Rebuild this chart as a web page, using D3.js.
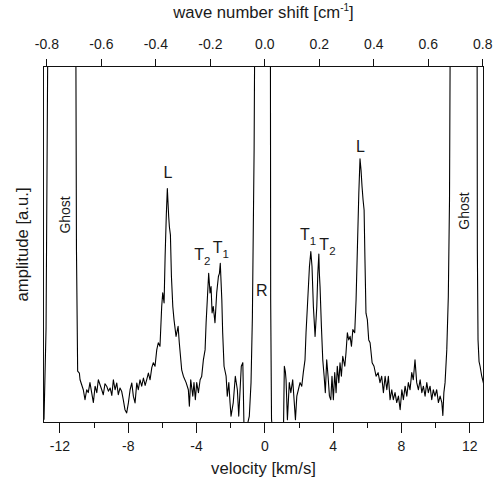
<!DOCTYPE html>
<html>
<head>
<meta charset="utf-8">
<script src="https://cdn.jsdelivr.net/npm/d3@7"></script>
<style>
  body { margin: 0; background: #fff; }
  text { font-family: "Liberation Sans", Arial, sans-serif; fill: #1a1a1a; }
</style>
</head>
<body>
<div id="chart"></div>
<script>
// Brillouin spectrum (amplitude in a.u., 0..100 = frame height).
// Values above 100 / below 0 are off-scale and get clipped by the frame.
var velocity = [
  -12.90, -12.78, -12.65, -12.30, -11.50, -11.05, -11.00, -10.93, -10.83, -10.79,
  -10.60, -10.50, -10.40, -10.31, -10.21, -10.11, -10.01, -9.91, -9.81, -9.72,
  -9.62, -9.52, -9.43, -9.33, -9.23, -9.13, -9.03, -8.93, -8.84, -8.74,
  -8.64, -8.55, -8.45, -8.35, -8.26, -8.16, -8.06, -7.96, -7.86, -7.76,
  -7.67, -7.57, -7.47, -7.38, -7.28, -7.18, -7.08, -6.98, -6.89, -6.79,
  -6.69, -6.59, -6.50, -6.40, -6.30, -6.21, -6.11, -6.01, -5.95, -5.87,
  -5.81, -5.74, -5.68, -5.60, -5.56, -5.50, -5.44, -5.36, -5.29, -5.17,
  -5.05, -4.98, -4.84, -4.74, -4.58, -4.45, -4.39, -4.31, -4.19, -4.12,
  -4.04, -3.96, -3.86, -3.76, -3.67, -3.57, -3.47, -3.41, -3.34, -3.26,
  -3.18, -3.12, -3.06, -2.99, -2.89, -2.79, -2.69, -2.63, -2.58, -2.49,
  -2.44, -2.36, -2.24, -2.17, -2.08, -2.01, -1.95, -1.82, -1.70, -1.58,
  -1.50, -1.42, -1.35, -1.26, -1.19, -1.03, -0.88, -0.78, -0.70, -0.60,
  -0.54, -0.30, 0.20, 0.35, 0.37, 0.42, 0.48, 0.92, 1.12, 1.17,
  1.23, 1.27, 1.35, 1.46, 1.55, 1.66, 1.74, 1.82, 1.90, 1.99,
  2.09, 2.19, 2.28, 2.38, 2.44, 2.52, 2.64, 2.72, 2.79, 2.87,
  2.97, 3.07, 3.13, 3.19, 3.22, 3.26, 3.34, 3.42, 3.50, 3.57,
  3.65, 3.73, 3.81, 3.89, 3.96, 4.04, 4.12, 4.20, 4.27, 4.36,
  4.43, 4.51, 4.59, 4.71, 4.78, 4.86, 4.94, 5.02, 5.10, 5.18,
  5.29, 5.37, 5.45, 5.53, 5.60, 5.66, 5.72, 5.78, 5.84, 5.89,
  5.95, 6.03, 6.11, 6.19, 6.31, 6.42, 6.54, 6.66, 6.77, 6.87,
  6.97, 7.07, 7.17, 7.26, 7.36, 7.46, 7.55, 7.65, 7.75, 7.85,
  7.95, 8.05, 8.14, 8.24, 8.34, 8.43, 8.53, 8.63, 8.72, 8.82,
  8.92, 9.02, 9.12, 9.22, 9.31, 9.41, 9.51, 9.60, 9.70, 9.80,
  9.89, 9.99, 10.09, 10.19, 10.29, 10.39, 10.45, 10.51, 10.58, 10.68,
  10.77, 10.84, 10.90, 11.50, 12.20, 12.45, 12.47, 12.51, 12.57, 12.63,
  12.72, 12.82, 12.89
];

var amplitude = [
  0.8, 26.6, 130, 200, 200, 130, 48.5, 14.4, 13.9, 12.0,
  9.2, 6.4, 9.2, 8.4, 11.2, 8.4, 5.6, 10.2, 8.4, 12.0,
  10.6, 9.2, 7.8, 10.9, 10.2, 8.8, 9.7, 7.6, 12.0, 9.2,
  11.1, 7.8, 9.7, 8.7, 6.4, 3.6, 2.7, 5.5, 9.2, 11.1,
  7.4, 5.5, 11.1, 9.2, 12.0, 10.2, 12.5, 10.4, 12.0, 13.9,
  12.0, 15.4, 16.8, 15.8, 20.4, 22.4, 21.4, 32.6, 36.4, 33.6,
  46.6, 58.3, 65.7, 57.8, 55.0, 52.7, 41.0, 32.6, 28.9, 24.2,
  27.0, 22.4, 14.8, 13.0, 11.2, 9.2, 4.6, 12.0, 7.4, 11.2,
  6.4, 11.2, 8.4, 12.0, 12.9, 17.6, 20.4, 28.0, 34.5, 41.9,
  36.4, 38.2, 30.8, 32.6, 28.0, 36.4, 41.0, 41.9, 44.7, 34.5,
  25.2, 15.8, 13.0, 7.4, 11.2, 5.6, 1.8, 5.6, 13.0, 9.2,
  1.8, 9.2, 15.8, 16.8, -2, -1.4, 1.8, 11.2, 29.8, 76.5,
  130, 300, 300, 130, 34.5, 0.8, -2, -3.4, -2, 15.8,
  14.3, 12.0, 0.8, 11.2, 8.4, 12.0, 6.4, 0.8, 7.4, 9.2,
  11.2, 10.2, 14.0, 17.6, 25.2, 32.6, 43.8, 48.0, 43.8, 32.6,
  24.2, 32.6, 41.9, 47.3, 41.9, 38.2, 27.0, 17.6, 13.0, 8.4,
  17.6, 13.0, 7.4, 6.4, 13.0, 6.4, 14.0, 8.4, 15.8, 11.2,
  16.8, 13.0, 18.6, 15.8, 19.6, 25.2, 23.2, 24.2, 21.4, 26.1,
  25.2, 34.5, 49.4, 64.3, 74.1, 70.9, 66.2, 62.5, 59.7, 45.7,
  30.7, 28.9, 23.2, 22.4, 16.8, 15.8, 13.0, 14.0, 11.2, 13.0,
  8.4, 13.0, 9.2, 13.0, 6.4, 9.2, 6.4, 8.4, 5.6, 7.4,
  3.6, 9.2, 6.4, 10.2, 7.4, 11.2, 9.2, 14.0, 12.0, 17.6,
  11.2, 9.2, 12.0, 8.4, 10.2, 7.4, 11.2, 8.4, 10.2, 6.4,
  9.2, 7.4, 9.2, 5.6, 7.4, 5.6, 2.0, 8.4, 11.2, 20.4,
  35.4, 62.5, 130, 200, 200, 130, 48.5, 23.2, 17.1, 15.8,
  13.2, 11.2, 9.8
];

// axis ticks
var velocityTicks = [-12, -8, -4, 0, 4, 8, 12];
var velocityMinorTicks = [-10, -6, -2, 2, 6, 10];
var wavenumberTicks = [-0.8, -0.6, -0.4, -0.2, 0.0, 0.2, 0.4, 0.6, 0.8];
var KMS_PER_WAVENUMBER = 15.95;   // km/s per cm^-1

// peak labels (position = start of text, baseline)
var peakNames = ['L', 'T', 'T', 'R', 'T', 'T', 'L'];
var peakSubs = ['', '2', '1', '', '1', '2', ''];
var peakVelocity = [-5.91, -4.10, -3.02, -0.49, 2.09, 3.22, 5.37];
var peakAmplitude = [68.6, 45.6, 47.5, 35.6, 51.3, 48.5, 76.1];

// ghost labels (rotated, centred)
var ghostVelocity = [-11.38, 12.0];
var ghostAmplitude = [58.3, 59.4];

var WIDTH = 498, HEIGHT = 485;
var margin = {top: 66.5, right: 14.5, bottom: 62.5, left: 43.5},
    width = WIDTH - margin.left - margin.right,
    height = HEIGHT - margin.top - margin.bottom;

var svg = d3.select('#chart').append('svg')
    .attr('width', WIDTH)
    .attr('height', HEIGHT);

var g = svg.append('g')
    .attr('transform', `translate(${margin.left},${margin.top})`);

var xDomain = [-12.93, 12.83];
var x = d3.scaleLinear().domain(xDomain).range([0, width]);
var xTop = d3.scaleLinear()
    .domain(xDomain.map(d => d / KMS_PER_WAVENUMBER))
    .range([0, width]);
var y = d3.scaleLinear().domain([0, 100]).range([height, 0]);

g.append('clipPath').attr('id', 'plot-clip')
  .append('rect')
    .attr('width', width)
    .attr('height', height);

var spectrum = velocity.map((v, i) => ({v: v, a: amplitude[i]}));

var line = d3.line()
    .x(d => x(d.v))
    .y(d => y(d.a));

g.append('path')
    .datum(spectrum)
    .attr('clip-path', 'url(#plot-clip)')
    .attr('fill', 'none')
    .attr('stroke', '#000')
    .attr('stroke-width', 1.1)
    .attr('stroke-linejoin', 'round')
    .attr('d', line);

// frame
g.append('rect')
    .attr('width', width)
    .attr('height', height)
    .attr('fill', 'none')
    .attr('stroke', '#111')
    .attr('stroke-width', 1)
    .attr('shape-rendering', 'crispEdges');

// bottom axis: major + minor ticks
var bottomAxis = g.append('g')
    .attr('transform', `translate(0,${height})`)
    .call(d3.axisBottom(x).tickValues(velocityTicks).tickSize(10).tickPadding(9)
          .tickFormat(d => String(d)));

g.append('g')
    .attr('transform', `translate(0,${height})`)
    .call(d3.axisBottom(x).tickValues(velocityMinorTicks).tickSize(5).tickFormat(''));

var topAxis = g.append('g')
    .call(d3.axisTop(xTop).tickValues(wavenumberTicks).tickSize(8).tickPadding(10)
          .tickFormat(d => d.toFixed(1)));

g.selectAll('.domain').remove();
g.selectAll('.tick line').attr('stroke', '#111').attr('shape-rendering', 'crispEdges');
g.selectAll('.tick text')
    .attr('font-family', '"Liberation Sans", Arial, sans-serif')
    .attr('font-size', 14)
    .attr('fill', '#1a1a1a');

// axis titles
svg.append('text')
    .attr('x', margin.left + width / 2)
    .attr('y', 474)
    .attr('text-anchor', 'middle')
    .attr('font-size', 16.7)
    .text('velocity [km/s]');

var topTitle = svg.append('text')
    .attr('x', margin.left + width / 2)
    .attr('y', 17.5)
    .attr('text-anchor', 'middle')
    .attr('font-size', 16.7);
topTitle.append('tspan').text('wave number shift [cm');
topTitle.append('tspan').attr('font-size', 10).attr('dy', -7).text('-1');
topTitle.append('tspan').attr('dy', 7).text(']');

svg.append('text')
    .attr('transform', `translate(28,${margin.top + height / 2}) rotate(-90)`)
    .attr('text-anchor', 'middle')
    .attr('font-size', 16.7)
    .text('amplitude [a.u.]');

// peak annotations
peakNames.forEach((name, i) => {
  var t = g.append('text')
      .attr('x', x(peakVelocity[i]))
      .attr('y', y(peakAmplitude[i]))
      .attr('font-size', 16);
  t.append('tspan').text(name);
  if (peakSubs[i]) {
    t.append('tspan').attr('font-size', 11.5).attr('dy', 5).text(peakSubs[i]);
  }
});

ghostVelocity.forEach((v, i) => {
  g.append('text')
      .attr('transform', `translate(${x(v)},${y(ghostAmplitude[i])}) rotate(-90)`)
      .attr('text-anchor', 'middle')
      .attr('font-size', 14)
      .text('Ghost');
});
</script>
</body>
</html>
